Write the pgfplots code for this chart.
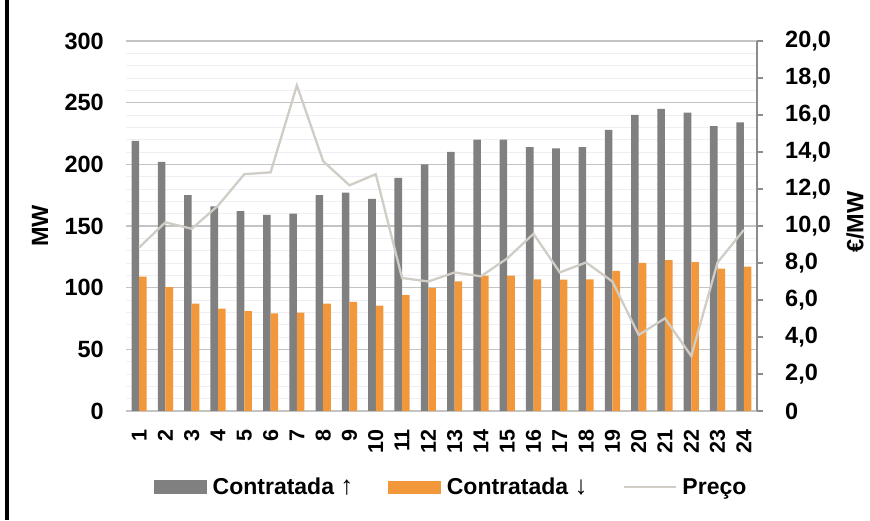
\documentclass[border=0pt]{standalone}
\usepackage{pgfplots}
\pgfplotsset{compat=1.18}
\usepackage{fontspec}
\setmainfont{Liberation Sans}
\definecolor{barGrey}{HTML}{808080}
\definecolor{barOrange}{HTML}{F2983A}
\definecolor{lineGrey}{HTML}{D0CCC6}
\definecolor{gridc}{HTML}{C4C4C4}
\definecolor{minorc}{HTML}{EEEEF4}
\definecolor{axisc}{HTML}{8C8C8C}
\newcommand{\tfont}{\fontsize{23.5}{23.5}\selectfont\bfseries}
\newcommand{\xfont}{\fontsize{21.5}{21.5}\selectfont\bfseries}
\newcommand{\lfont}{\fontsize{23}{23}\selectfont\bfseries}
\begin{document}
\begin{tikzpicture}
\path[use as bounding box] (0pt,0pt) rectangle (870pt,521pt);
\fill[black] (5pt,1pt) rectangle (9pt,521pt);
\begin{axis}[
  at={(126pt,110pt)}, anchor=south west, scale only axis,
  width=631pt, height=370pt,
  xmin=0.5, xmax=24.5, ymin=0, ymax=300,
  xtick={1,...,24},
  xticklabel style={rotate=90, anchor=east, inner sep=0pt, font=\xfont},
  xticklabel shift=18pt,
  ytick={0,50,...,300},
  minor ytick={10,20,...,290},
  yticklabel style={anchor=east, inner sep=0pt, font=\tfont},
  yticklabel shift=22pt,
  major tick length=0pt, minor tick length=0pt,
  tick style={draw=none},
  ymajorgrids, yminorgrids,
  major grid style={color=gridc, line width=1.1pt},
  minor grid style={color=minorc, line width=0.7pt},
  axis line style={draw=none},
  /pgf/number format/assume math mode=true,
  ylabel={MW},
  every axis y label/.style={at={(axis description cs:-0.1363,0.5)}, rotate=90, anchor=center, font=\tfont},
]
\addplot[ybar, bar width=7.6pt, bar shift=-3.8pt, fill=barGrey, draw=none] coordinates {
(1,219) (2,202) (3,175) (4,166) (5,162) (6,159) (7,160) (8,175) (9,177) (10,172) (11,189) (12,200)
(13,210) (14,220) (15,220) (16,214) (17,213) (18,214) (19,228) (20,240) (21,245) (22,242) (23,231) (24,234)};
\addplot[ybar, bar width=7.6pt, bar shift=3.8pt, fill=barOrange, draw=none] coordinates {
(1,109) (2,100.5) (3,87) (4,83) (5,81) (6,79.2) (7,79.8) (8,87) (9,88.4) (10,85.4) (11,94) (12,99.7)
(13,105) (14,109.7) (15,109.7) (16,106.7) (17,106.5) (18,106.7) (19,113.7) (20,120) (21,122.4) (22,120.8) (23,115.4) (24,117)};
\end{axis}
\begin{axis}[
  at={(126pt,110pt)}, anchor=south west, scale only axis,
  width=631pt, height=370pt,
  xmin=0.5, xmax=24.5, ymin=0, ymax=20,
  axis x line=none,
  axis y line*=right,
  y axis line style={color=axisc, line width=1.3pt, -},
  ytick={0,2,...,20},
  yticklabels={0,{2,0},{4,0},{6,0},{8,0},{10,0},{12,0},{14,0},{16,0},{18,0},{20,0}},
  ytick style={color=axisc, line width=1.3pt},
  tick align=outside, major tick length=6pt,
  yticklabel style={anchor=west, inner sep=0pt, font=\tfont},
  yticklabel shift=22pt,
  ylabel={€/MW},
  every axis y label/.style={at={(axis description cs:1.1553,0.51)}, rotate=90, anchor=center, font=\tfont},
  legend columns=3,
  legend style={draw=none, fill=none, font=\lfont,
    at={(axis description cs:0.514,-0.2054)}, anchor=center,
    /tikz/every odd column/.style={column sep=6pt},
    /tikz/every even column/.style={column sep=35pt},
    nodes={inner sep=0pt}},
]
\addlegendimage{legend image code/.code={\fill[barGrey] (0pt,-6.5pt) rectangle (52pt,6.5pt);}}
\addlegendentry{Contratada {\mdseries\fontsize{26}{26}\selectfont ↑}}
\addlegendimage{legend image code/.code={\fill[barOrange] (0pt,-6pt) rectangle (52pt,6pt);}}
\addlegendentry{Contratada {\mdseries\fontsize{26}{26}\selectfont ↓}}
\addplot[color=lineGrey, line width=2.3pt, mark=none,
  legend image code/.code={\draw[color=lineGrey, line width=1.8pt] (0pt,0pt) -- (52pt,0pt);}] coordinates {
(1,8.84) (2,10.2) (3,9.85) (4,11.1) (5,12.8) (6,12.9) (7,17.6) (8,13.5) (9,12.2) (10,12.8) (11,7.19) (12,7.0)
(13,7.49) (14,7.28) (15,8.25) (16,9.58) (17,7.49) (18,8.03) (19,7.0) (20,4.11) (21,5.01) (22,2.97) (23,8.03) (24,9.79)};
\addlegendentry{Preço}
\end{axis}
\end{tikzpicture}
\end{document}
